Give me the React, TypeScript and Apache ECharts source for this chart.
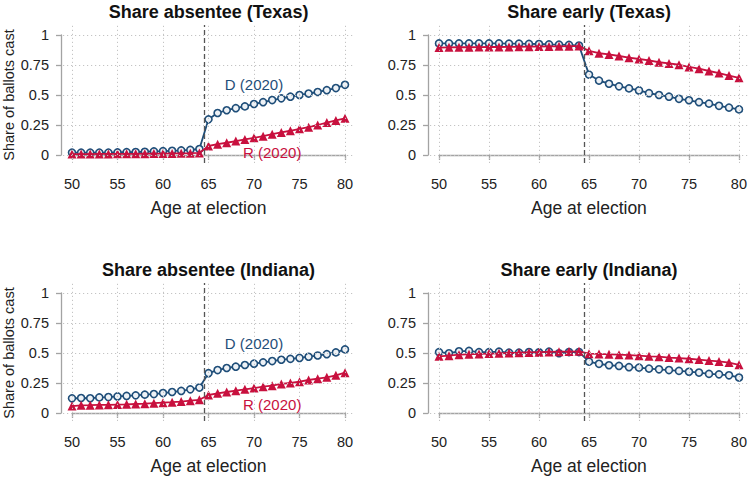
import React, { useEffect, useRef } from "react";
import * as echarts from "echarts";

const AGES = [50, 51, 52, 53, 54, 55, 56, 57, 58, 59, 60, 61, 62, 63, 64, 65, 66, 67, 68, 69, 70, 71, 72, 73, 74, 75, 76, 77, 78, 79, 80];

const TX_ABS_D = [0.02, 0.02, 0.02, 0.02, 0.02, 0.022, 0.024, 0.025, 0.027, 0.03, 0.032, 0.035, 0.038, 0.042, 0.05,
  0.297, 0.35, 0.373, 0.39, 0.405, 0.425, 0.44, 0.458, 0.472, 0.486, 0.5, 0.512, 0.525, 0.54, 0.558, 0.585];
const TX_ABS_R = [0.008, 0.008, 0.008, 0.009, 0.009, 0.01, 0.01, 0.01, 0.011, 0.012, 0.012, 0.013, 0.014, 0.015, 0.017,
  0.075, 0.09, 0.102, 0.116, 0.13, 0.143, 0.157, 0.173, 0.188, 0.202, 0.218, 0.232, 0.25, 0.27, 0.288, 0.306];
const TX_EARLY_D = [0.93, 0.93, 0.93, 0.93, 0.93, 0.93, 0.93, 0.928, 0.928, 0.926, 0.925, 0.922, 0.92, 0.917, 0.912,
  0.67, 0.62, 0.594, 0.572, 0.555, 0.538, 0.515, 0.5, 0.486, 0.468, 0.456, 0.44, 0.428, 0.41, 0.395, 0.38];
const TX_EARLY_R = [0.895, 0.897, 0.898, 0.898, 0.899, 0.9, 0.9, 0.901, 0.902, 0.903, 0.904, 0.905, 0.906, 0.907, 0.908,
  0.868, 0.848, 0.838, 0.825, 0.811, 0.8, 0.788, 0.773, 0.763, 0.752, 0.734, 0.719, 0.7, 0.683, 0.662, 0.643];
const IN_ABS_D = [0.122, 0.125, 0.123, 0.13, 0.133, 0.138, 0.142, 0.147, 0.153, 0.158, 0.166, 0.175, 0.184, 0.197, 0.212,
  0.332, 0.358, 0.375, 0.386, 0.4, 0.411, 0.422, 0.433, 0.444, 0.451, 0.459, 0.469, 0.479, 0.49, 0.505, 0.53];
const IN_ABS_R = [0.058, 0.064, 0.065, 0.067, 0.068, 0.07, 0.072, 0.075, 0.078, 0.082, 0.086, 0.09, 0.095, 0.103, 0.11,
  0.15, 0.164, 0.175, 0.186, 0.197, 0.208, 0.219, 0.228, 0.242, 0.25, 0.261, 0.275, 0.286, 0.297, 0.314, 0.336];
const IN_EARLY_D = [0.507, 0.498, 0.514, 0.517, 0.507, 0.507, 0.511, 0.503, 0.503, 0.508, 0.506, 0.511, 0.498, 0.508, 0.508,
  0.428, 0.41, 0.398, 0.392, 0.382, 0.378, 0.37, 0.364, 0.358, 0.351, 0.344, 0.337, 0.326, 0.322, 0.314, 0.296];
const IN_EARLY_R = [0.472, 0.478, 0.486, 0.489, 0.492, 0.495, 0.497, 0.5, 0.502, 0.505, 0.507, 0.509, 0.511, 0.512, 0.514,
  0.494, 0.492, 0.489, 0.486, 0.483, 0.478, 0.472, 0.469, 0.462, 0.458, 0.452, 0.445, 0.437, 0.43, 0.42, 0.402];

const X_TICKS = [50, 55, 60, 65, 70, 75, 80];
const Y_TICKS = [0, 0.25, 0.5, 0.75, 1];
const CUTOFF = 64.5;

const TITLES = ["Share absentee (Texas)", "Share early (Texas)", "Share absentee (Indiana)", "Share early (Indiana)"];
const X_NAME = "Age at election";
const Y_NAME = "Share of ballots cast";
const D_LABEL = "D (2020)";
const R_LABEL = "R (2020)";

const BLUE = "#1f4e79";
const RED = "#c8103e";
const FONT = "'Liberation Sans', Arial, Helvetica, sans-serif";

// layout: pixel box of the exact data range [50,80] x [0,1]
const PANELS = [
  { title: TITLES[0], d: TX_ABS_D, r: TX_ABS_R, left: 72, top: 35, width: 273, yName: true, dLab: [70, 0.59], rLab: [72, 0.017] },
  { title: TITLES[1], d: TX_EARLY_D, r: TX_EARLY_R, left: 439, top: 35, width: 300, yName: false, dLab: null, rLab: null },
  { title: TITLES[2], d: IN_ABS_D, r: IN_ABS_R, left: 72, top: 293, width: 273, yName: true, dLab: [70, 0.58], rLab: [72, 0.075] },
  { title: TITLES[3], d: IN_EARLY_D, r: IN_EARLY_R, left: 439, top: 293, width: 300, yName: false, dLab: null, rLab: null },
];
const PLOT_H = 120;
const PAD = { l: 9, r: 10, t: 10, b: 8 };

function buildOption() {
  const grid: any[] = [];
  const xAxis: any[] = [];
  const yAxis: any[] = [];
  const series: any[] = [];
  const graphic: any[] = [];

  PANELS.forEach((p, i) => {
    const W = p.width;
    const xs = 30 / W;
    const ys = 1 / PLOT_H;
    grid.push({ left: p.left - PAD.l, top: p.top - PAD.t, width: W + PAD.l + PAD.r, height: PLOT_H + PAD.t + PAD.b, containLabel: false });
    grid.push({ left: p.left, top: p.top, width: W, height: PLOT_H, containLabel: false });
    const gd = 2 * i;
    const ga = 2 * i + 1;
    xAxis.push({
      type: "value", gridIndex: gd, min: X_TICKS[0] - PAD.l * xs, max: X_TICKS[X_TICKS.length - 1] + PAD.r * xs,
      axisLine: { show: false }, axisTick: { show: false }, axisLabel: { show: false }, splitLine: { show: false },
    });
    yAxis.push({
      type: "value", gridIndex: gd, min: Y_TICKS[0] - PAD.b * ys, max: Y_TICKS[Y_TICKS.length - 1] + PAD.t * ys,
      axisLine: { show: false }, axisTick: { show: false }, axisLabel: { show: false }, splitLine: { show: false },
    });
    xAxis.push({
      type: "value", gridIndex: ga, min: 50, max: 80, interval: 5, offset: 12,
      axisLine: { show: true, lineStyle: { color: "#a3a3a3", width: 1.3 } },
      axisTick: { show: true, length: 5, lineStyle: { color: "#a3a3a3", width: 1.3 } },
      axisLabel: { show: true, margin: 9, fontSize: 14.5, color: "#222", fontFamily: FONT },
      splitLine: { show: false },
      name: X_NAME, nameLocation: "middle", nameGap: 32,
      nameTextStyle: { fontSize: 17.5, color: "#222", fontFamily: FONT },
    });
    yAxis.push({
      type: "value", gridIndex: ga, min: 0, max: 1, interval: 0.25, offset: 11,
      axisLine: { show: true, lineStyle: { color: "#a3a3a3", width: 1.3 } },
      axisTick: { show: true, length: 5, lineStyle: { color: "#a3a3a3", width: 1.3 } },
      axisLabel: { show: true, margin: 12, fontSize: 14.5, color: "#222", fontFamily: FONT },
      splitLine: { show: false },
      name: p.yName ? Y_NAME : "", nameLocation: "middle", nameGap: 42,
      nameTextStyle: { fontSize: 14.5, color: "#222", fontFamily: FONT },
    });

    series.push({
      type: "line", xAxisIndex: gd, yAxisIndex: gd, data: [], z: 1, silent: true,
      markLine: {
        silent: true, symbol: ["none", "none"], animation: false,
        label: { show: false },
        lineStyle: { color: "#c4c4c4", width: 1, type: [1.2, 2.8] },
        data: [
          ...X_TICKS.map((v) => ({ xAxis: v })),
          ...Y_TICKS.map((v) => ({ yAxis: v })),
          { xAxis: CUTOFF, lineStyle: { color: "#555", width: 1.3, type: [5, 3] } },
        ],
      },
    });

    const pts = (arr: number[]) => AGES.map((a, j) => [a, arr[j]]);
    const labelPoint = (coord: number[] | null, text: string, color: string) =>
      coord
        ? {
            symbol: "circle", symbolSize: 0, silent: true, animation: false,
            data: [{ coord, label: { show: true, position: "inside", formatter: text, color, fontSize: 15, fontFamily: FONT } }],
          }
        : undefined;

    series.push({
      type: "line", xAxisIndex: gd, yAxisIndex: gd, data: pts(p.d), z: 3,
      symbol: "circle", symbolSize: 7, showSymbol: true,
      lineStyle: { color: BLUE, width: 1.8 },
      itemStyle: { color: "#eef2f6", borderColor: BLUE, borderWidth: 1.6 },
      markPoint: labelPoint(p.dLab, D_LABEL, BLUE),
    });
    series.push({
      type: "line", xAxisIndex: gd, yAxisIndex: gd, data: pts(p.r), z: 4,
      symbol: "triangle", symbolSize: 9, showSymbol: true,
      lineStyle: { color: RED, width: 1.8 },
      itemStyle: { color: RED },
      markPoint: labelPoint(p.rLab, R_LABEL, RED),
    });

    graphic.push({
      type: "text", x: p.left + W / 2, y: p.top - 23,
      style: { text: p.title, font: `bold 18px ${FONT}`, fill: "#111", textAlign: "center", textVerticalAlign: "middle" },
    });
  });

  return { animation: false, backgroundColor: "#fff", grid, xAxis, yAxis, series, graphic };
}

export default function App() {
  const ref = useRef<HTMLDivElement>(null);
  useEffect(() => {
    if (!ref.current) return;
    const chart = echarts.init(ref.current, undefined, { renderer: "svg" });
    chart.setOption(buildOption() as any);
    return () => chart.dispose();
  }, []);
  return <div ref={ref} style={{ position: "fixed", left: 0, top: 0, width: 750, height: 479, background: "#fff" }} />;
}
